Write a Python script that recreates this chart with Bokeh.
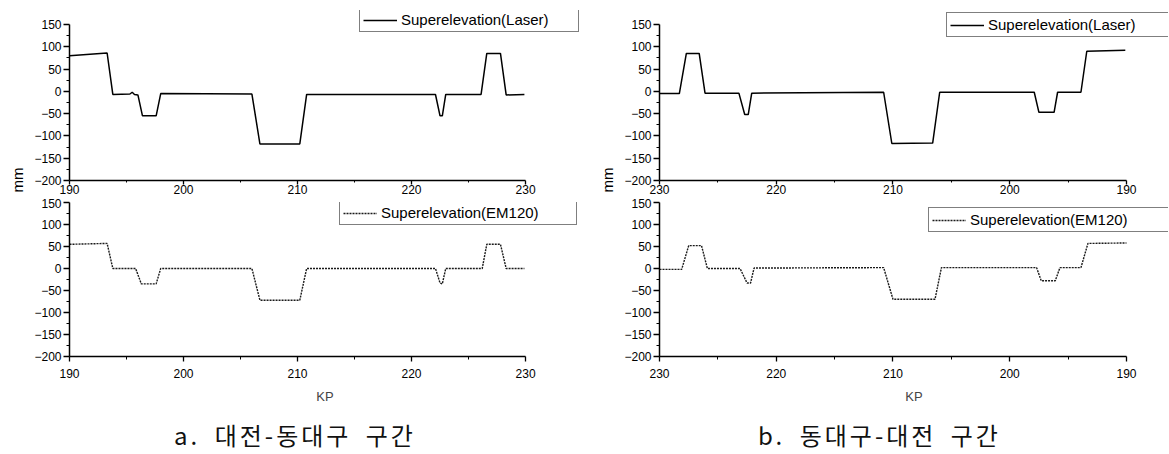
from bokeh.plotting import figure
from bokeh.models import Range1d, FixedTicker, Legend, LegendItem, Title, Div
from bokeh.layouts import row, column
from bokeh.embed import file_html
from bokeh.resources import INLINE

# ---------------- data ----------------
# a. Daejeon -> Dongdaegu
kp_laser_a = [190.0, 193.3, 193.8, 195.3, 195.5, 195.7, 196.0, 196.4, 197.6, 198.0,
              206.0, 206.7, 210.2, 210.8, 222.1, 222.5, 222.7, 223.0, 226.1, 226.6,
              227.8, 228.3, 229.9]
laser_a = [80, 86, -7, -6, -2, -7, -8, -55, -55, -5,
           -6, -118, -118, -7, -7, -55, -55, -7, -7, 85,
           85, -8, -7]

kp_em_a = [190.0, 193.3, 193.8, 195.8, 196.3, 197.6, 198.0, 206.0, 206.7, 210.2,
           210.8, 222.1, 222.5, 222.7, 223.0, 226.2, 226.6, 227.8, 228.3, 229.9]
em_a = [55, 57, 0, 0, -35, -35, 0, 0, -72, -72,
        0, 0, -33, -35, 0, 0, 55, 55, 0, 0]

# b. Dongdaegu -> Daejeon
kp_laser_b = [230.0, 228.3, 227.7, 226.6, 226.1, 223.2, 222.7, 222.4, 222.1, 210.8,
              210.1, 206.6, 206.0, 197.9, 197.5, 196.2, 195.9, 193.9, 193.4, 190.1]
laser_b = [-5, -5, 85, 85, -4, -4, -52, -52, -4, -2,
           -117, -116, -2, -2, -47, -47, -2, -2, 90, 92]

kp_em_b = [230.0, 228.1, 227.5, 226.4, 225.9, 223.1, 222.5, 222.2, 221.9, 210.8,
           210.0, 206.4, 205.85, 197.7, 197.3, 196.1, 195.7, 193.9, 193.3, 190.0]
em_b = [-2, -2, 52, 52, 0, 0, -33, -33, 1, 2,
        -70, -70, 2, 2, -28, -28, 2, 2, 57, 58]

x_ticks = [190, 200, 210, 220, 230]
x_minor = [195, 205, 215, 225]
y_ticks = [-200, -150, -100, -50, 0, 50, 100, 150]
y_minor = [-175, -125, -75, -25, 25, 75, 125]

label_laser = "Superelevation(Laser)"
label_em = "Superelevation(EM120)"
y_label = "mm"
x_label = "KP"
caption_a = "a. 대전-동대구 구간"
caption_b = "b. 동대구-대전 구간"

FONT = "Liberation Sans"
X_BOUNDS = (190, 230)
Y_BOUNDS = (-200, 150)


def make_fig(xr, yr, width, height, ml, mr, mt, mb, top):
    p = figure(width=width, height=height, x_range=xr, y_range=yr,
               output_backend="svg", toolbar_location=None,
               min_border_left=ml, min_border_right=mr,
               min_border_top=mt, min_border_bottom=mb)
    p.outline_line_color = None
    p.grid.visible = False
    p.xaxis.ticker = FixedTicker(ticks=x_ticks, minor_ticks=x_minor)
    p.yaxis.ticker = FixedTicker(ticks=y_ticks, minor_ticks=y_minor)
    p.xaxis.bounds = X_BOUNDS
    p.yaxis.bounds = Y_BOUNDS
    for ax in (p.xaxis, p.yaxis):
        ax.axis_line_width = 1.5
        ax.axis_line_color = "black"
        ax.major_tick_line_color = "black"
        ax.minor_tick_line_color = "black"
        ax.major_tick_line_width = 1.3
        ax.major_tick_in = 0
        ax.minor_tick_in = 0
        ax.major_label_text_font = FONT
        ax.major_label_text_font_size = "12px"
        ax.major_label_text_color = "black"
    p.yaxis.major_tick_out = 6
    p.yaxis.minor_tick_out = 3
    p.yaxis.major_label_standoff = 2
    if top:
        p.xaxis.major_tick_out = 4
        p.xaxis.minor_tick_out = 2
        p.xaxis.major_label_standoff = 0
        p.add_layout(Title(text=y_label, align="left", offset=-12,
                           text_font=FONT, text_font_size="15px",
                           text_font_style="normal", text_color="black",
                           standoff=12), "left")
    else:
        p.xaxis.major_tick_out = 5
        p.xaxis.minor_tick_out = 3
        p.xaxis.major_label_standoff = 7
        p.xaxis.axis_label = x_label
        p.xaxis.axis_label_text_font = FONT
        p.xaxis.axis_label_text_font_size = "13px"
        p.xaxis.axis_label_text_font_style = "normal"
        p.xaxis.axis_label_standoff = 8
    return p


def add_legend(p, r, label, loc, label_width):
    lg = Legend(items=[LegendItem(label=label, renderers=[r])], location=loc,
                border_line_color="black", border_line_width=1.5,
                background_fill_color="white", background_fill_alpha=1,
                label_text_font=FONT, label_text_font_size="15px",
                label_text_color="black",
                glyph_width=34, glyph_height=14, label_height=14,
                label_width=label_width, label_standoff=4,
                padding=3, spacing=0, margin=0)
    p.add_layout(lg)


# layout geometry (pixels)
WA, WB = 590, 579
HT, HB = 198, 212

# ---------------- panel a ----------------
pa_top = make_fig(Range1d(190, 234.82), Range1d(-200, 181.4), WA, HT, 69, 10, 10, 18, True)
r = pa_top.line(kp_laser_a, laser_a, line_color="black", line_width=1.5)
add_legend(pa_top, r, label_laser, (290, 148), 174)

pa_bot = make_fig(Range1d(190, 234.82), Range1d(-200, 150), WA, HB, 69, 10, 4, 54, False)
r = pa_bot.line(kp_em_a, em_a, line_color="#1a1a1a", line_width=1.4, line_dash="2 1")
add_legend(pa_bot, r, label_em, (270, 131), 192)

# ---------------- panel b ----------------
pb_top = make_fig(Range1d(230, 186.40), Range1d(-200, 181.4), WB, HT, 69, 1, 10, 18, True)
r = pb_top.line(kp_laser_b, laser_b, line_color="black", line_width=1.5)
add_legend(pb_top, r, label_laser, (287, 143), 177)

pb_bot = make_fig(Range1d(230, 186.40), Range1d(-200, 150), WB, HB, 69, 1, 4, 54, False)
r = pb_bot.line(kp_em_b, em_b, line_color="#1a1a1a", line_width=1.4, line_dash="2 1")
add_legend(pb_bot, r, label_em, (269, 124), 196)


def caption(text, width):
    return Div(text=text, width=width, height=44, margin=(0, 0, 0, 0),
               styles={"text-align": "center", "font-size": "24px",
                       "letter-spacing": "3px", "word-spacing": "6px",
                       "line-height": "50px",
                       "font-family": "'Noto Sans CJK KR'",
                       "color": "#111111", "width": f"{width}px"})


layout = column(
    row(column(pa_top, pa_bot, spacing=0), column(pb_top, pb_bot, spacing=0), spacing=0),
    row(caption(caption_a, WA), caption(caption_b, WB), spacing=0),
    spacing=0,
)

open("out.html", "w").write(file_html(layout, INLINE))
